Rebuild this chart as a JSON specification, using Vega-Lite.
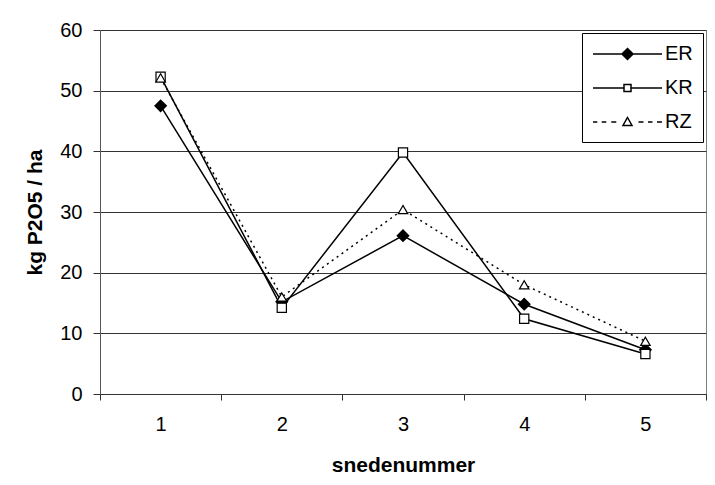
{
  "$schema": "https://vega.github.io/schema/vega-lite/v6.json",
  "width": 606,
  "height": 364,
  "autosize": {"type": "none"},
  "padding": {"left": 100, "top": 30, "right": 9, "bottom": 91},
  "background": "white",
  "config": {
    "font": "Liberation Sans",
    "view": {"stroke": "#808080", "strokeWidth": 1},
    "axis": {"labelFont": "Liberation Sans", "titleFont": "Liberation Sans", "labelColor": "black", "titleColor": "black"},
    "legend": {"labelFont": "Liberation Sans"}
  },
  "data": {
    "values": [
      {"series": "ER", "x": "1", "v": 47.5},
      {"series": "ER", "x": "2", "v": 15.2},
      {"series": "ER", "x": "3", "v": 26.1},
      {"series": "ER", "x": "4", "v": 14.8},
      {"series": "ER", "x": "5", "v": 7.3},
      {"series": "KR", "x": "1", "v": 52.3},
      {"series": "KR", "x": "2", "v": 14.2},
      {"series": "KR", "x": "3", "v": 39.8},
      {"series": "KR", "x": "4", "v": 12.4},
      {"series": "KR", "x": "5", "v": 6.6},
      {"series": "RZ", "x": "1", "v": 52.1},
      {"series": "RZ", "x": "2", "v": 16.0},
      {"series": "RZ", "x": "3", "v": 30.4},
      {"series": "RZ", "x": "4", "v": 18.0},
      {"series": "RZ", "x": "5", "v": 8.7}
    ]
  },
  "encoding": {
    "x": {
      "field": "x", "type": "ordinal", "bandPosition": 0.5,
      "scale": {"type": "band", "paddingInner": 0, "paddingOuter": 0},
      "axis": {
        "title": "snedenummer", "titleFontSize": 21, "titleFontWeight": "bold", "titlePadding": 20,
        "labelFontSize": 20, "labelAngle": 0, "labelPadding": 14,
        "tickBand": "extent", "ticks": true, "tickSize": 6, "tickColor": "#333", "domainColor": "#333",
        "grid": false
      }
    },
    "y": {
      "field": "v", "type": "quantitative",
      "scale": {"domain": [0, 60], "nice": false},
      "axis": {
        "title": "kg P2O5 / ha", "titleFontSize": 21, "titleFontWeight": "bold", "titlePadding": 14,
        "values": [0, 10, 20, 30, 40, 50, 60], "labelFontSize": 20, "labelPadding": 11,
        "tickSize": 7, "tickColor": "#333", "domainColor": "#555",
        "grid": true, "gridColor": "#333", "gridWidth": 1
      }
    }
  },
  "layer": [
    {
      "transform": [{"filter": "datum.series !== 'RZ'"}],
      "mark": {"type": "line", "color": "black", "strokeWidth": 1.5},
      "encoding": {"detail": {"field": "series"}}
    },
    {
      "transform": [{"filter": "datum.series === 'RZ'"}],
      "mark": {"type": "line", "color": "black", "strokeWidth": 1.5, "strokeDash": [2, 4]},
      "encoding": {}
    },
    {
      "transform": [{"filter": "datum.series === 'ER'"}],
      "mark": {"type": "point", "shape": "diamond", "filled": true, "fill": "black", "stroke": "black", "size": 110, "opacity": 1}
    },
    {
      "transform": [{"filter": "datum.series === 'KR'"}],
      "mark": {"type": "point", "shape": "square", "filled": true, "fill": "white", "stroke": "black", "strokeWidth": 1.2, "size": 85, "opacity": 1}
    },
    {
      "transform": [{"filter": "datum.series === 'RZ'"}],
      "mark": {"type": "point", "shape": "triangle-up", "filled": true, "fill": "white", "stroke": "black", "strokeWidth": 1.2, "size": 90, "opacity": 1}
    },
    {
      "mark": {"type": "point", "filled": true, "stroke": "black", "strokeWidth": 1.2, "opacity": 0},
      "encoding": {
        "shape": {
          "field": "series", "type": "nominal",
          "scale": {
            "domain": ["ER", "KR", "RZ"],
            "range": [
              "M-1,0H1.9M3.0,0H5.9M2.45,-0.55L3.0,0L2.45,0.55L1.9,0Z",
              "M-1,0H2.1M2.8,0H5.9M2.1,-0.35H2.8V0.35H2.1Z",
              "M-1,0H-0.57M-0.13,0H0.33M0.83,0H1.33M3.55,0H4.05M4.5,0H4.95M5.4,0H5.9M2.45,-0.45L2.9,0.35H2.0Z"
            ]
          },
          "legend": {
            "title": null, "orient": "top-right", "offset": 3,
            "strokeColor": "black", "fillColor": "white", "padding": 10,
            "labelFontSize": 20, "labelColor": "black", "labelOffset": 51,
            "symbolSize": 400, "symbolStrokeColor": "black", "symbolStrokeWidth": 1.5,
            "symbolOpacity": 1, "rowPadding": 13,
            "encode": {"symbols": {"update": {"stroke": {"value": "black"}, "strokeWidth": {"value": 1.5}, "opacity": {"value": 1}, "strokeOpacity": {"value": 1}}}}
          }
        },
        "fill": {
          "field": "series", "type": "nominal",
          "scale": {"domain": ["ER", "KR", "RZ"], "range": ["black", "white", "white"]},
          "legend": {
            "title": null, "orient": "top-right", "offset": 3,
            "strokeColor": "black", "fillColor": "white", "padding": 10,
            "labelFontSize": 20, "labelColor": "black", "labelOffset": 51,
            "symbolSize": 400, "symbolStrokeColor": "black", "symbolStrokeWidth": 1.5,
            "symbolOpacity": 1, "rowPadding": 13,
            "encode": {"symbols": {"update": {"stroke": {"value": "black"}, "strokeWidth": {"value": 1.5}, "opacity": {"value": 1}, "strokeOpacity": {"value": 1}}}}
          }
        }
      }
    }
  ]
}
